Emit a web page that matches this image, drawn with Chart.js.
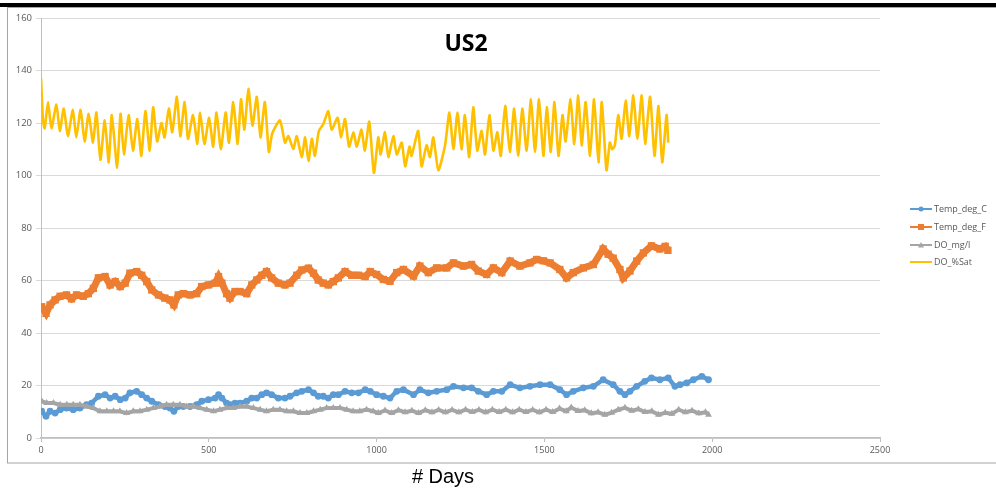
<!DOCTYPE html>
<html>
<head>
<meta charset="utf-8">
<script src="https://cdn.jsdelivr.net/npm/chart.js@4.4.1/dist/chart.umd.min.js"></script>
<style>
html,body{margin:0;padding:0;background:#fff;}
#wrap{position:relative;width:996px;height:489px;}
</style>
</head>
<body>
<div id="wrap"><canvas id="c" width="996" height="489"></canvas></div>
<script>
// ---- Data ----
const chartTitle = "US2";
const xAxisTitle = "# Days";
const seriesNames = ["Temp_deg_C", "Temp_deg_F", "DO_mg/l", "DO_%Sat"];
const xTicks = [0, 500, 1000, 1500, 2000, 2500];
const yTicks = [0, 20, 40, 60, 80, 100, 120, 140, 160];

const tempCDays = [2,15,27,42,57,76,96,116,136,151,171,191,206,221,236,251,265,285,300,315,330,350,369,384,396,409,424,444,464,479,499,519,529,539,553,563,578,593,613,628,643,658,672,687,707,727,742,762,777,797,812,826,841,856,871,886,906,926,946,966,981,1000,1020,1040,1060,1080,1110,1129,1154,1179,1209,1229,1259,1283,1303,1328,1348,1373,1398,1427,1457,1487,1517,1546,1566,1586,1616,1646,1675,1705,1725,1740,1755,1775,1799,1819,1844,1869,1889,1904,1924,1944,1969,1989];
const tempCValues = [10.2,8.3,10.2,9.5,10.8,11.4,10.8,11.4,12.7,13.3,15.9,16.5,15.2,15.9,14.6,15.2,17.2,17.8,16.5,15.2,14,12.7,12,11.4,10.2,12,12,12,12.7,14,14.6,15.2,16.5,15.2,13.3,12.7,13.3,13.3,14,15.2,15.2,16.5,17.2,16.5,15.2,15.2,15.9,17.2,17.8,18.4,17.2,15.9,15.9,15.2,16.5,16.5,17.8,17.2,17.2,18.4,17.8,16.5,15.9,15.2,17.8,18.4,16.5,18.4,17.2,17.8,18.4,19.7,19.1,19.1,17.8,16.5,17.8,17.8,20.3,19.1,19.7,20.3,20.3,18.4,16.5,17.8,19.1,19.7,22.2,20.3,17.8,16.5,17.8,19.7,21.6,22.9,22.2,22.9,19.7,20.3,21,22.2,23.5,22.2];

const tempFDays = [2,15,27,42,57,76,91,106,126,141,156,171,191,206,221,236,251,265,285,300,315,330,350,369,384,396,409,424,444,464,479,499,519,529,539,553,563,578,593,613,628,643,658,672,687,707,727,742,762,777,797,812,826,841,856,871,886,906,926,946,966,981,1000,1020,1040,1060,1080,1110,1129,1154,1179,1209,1229,1259,1283,1303,1328,1348,1373,1398,1427,1457,1477,1497,1517,1546,1566,1586,1616,1646,1675,1690,1705,1725,1735,1755,1775,1795,1819,1844,1860,1868];
const tempFValues = [50,47.5,50.7,52.6,54,54.5,53,54.5,54,55,57,61,61.5,58.3,59.6,57.7,59,62.8,63.4,62,59.6,56.4,54.5,53.3,52.6,50.7,54.5,55,54.5,55,57.7,58.3,59,61.5,59,55,53.3,55.8,55.8,55,58.3,60.2,62,63.4,61,59,58.3,59,62,64,64.7,62.8,60.2,59,58.3,59.6,61,63.4,62,62,61.5,63.4,62.3,60.4,59.7,63,64.2,61.7,65.5,63,64.8,64.8,66.7,65.5,66.1,63.6,62.3,64.8,63,67.4,65.5,66.7,68,67.5,66.7,64.2,61,63,64.8,66.1,72,70,68.5,64.2,61,63.6,67.4,70.5,73.2,72,73,71.5];

const doMgDays = [2,17,37,57,77,96,116,136,156,176,196,216,235,255,275,295,315,335,355,374,394,414,434,454,474,494,514,533,553,573,593,613,633,653,672,692,712,732,752,772,792,812,832,851,871,891,911,930,950,970,990,1005,1025,1045,1065,1085,1105,1125,1145,1165,1185,1205,1225,1245,1265,1285,1305,1325,1345,1365,1385,1405,1425,1445,1465,1485,1505,1525,1545,1565,1580,1600,1620,1640,1660,1680,1700,1720,1740,1760,1780,1800,1820,1840,1860,1880,1900,1920,1940,1960,1980,1989];
const doMgValues = [14,13.3,13.3,12.7,12.7,12.7,12.7,12,11.4,10.2,10.2,10.2,10.2,9.5,10.2,10.2,10.8,11.4,12,12.7,12.7,12.7,12,12,11.4,10.8,10.2,10.8,11.4,11.4,12,12,11.4,10.8,10.2,10.8,10.8,10.2,10.2,9.5,9.5,10.2,10.8,11.4,11.4,11.4,10.8,10.2,10.2,10.8,10.2,9.5,10.5,9.5,10.6,9.8,10.4,9.5,10.6,9.8,10.7,9.8,10.7,9.8,10.8,9.9,10.7,9.8,10.8,9.9,10.8,9.8,10.8,9.9,10.7,9.8,10.8,9.9,11.2,10.2,11.6,10.3,10.6,9.4,9.8,8.9,9.6,10.8,11.5,10.4,11,9.9,10.2,8.9,9.6,9.2,10.8,9.8,10.4,9.4,9.8,8.9];

const doSatDays = [0,6,11,21,31,46,56,68,80,95,105,118,130,142,155,165,177,190,202,211,227,237,247,261,274,287,299,311,324,334,346,359,368,381,391,405,415,428,438,453,466,474,487,501,513,523,536,550,560,573,586,596,606,618,630,643,654,667,679,689,712,727,737,752,762,777,787,797,807,816,828,841,856,866,884,894,906,918,931,941,955,965,978,992,1005,1012,1025,1035,1050,1060,1075,1085,1098,1104,1124,1134,1149,1159,1169,1184,1204,1217,1229,1241,1253,1263,1276,1288,1300,1313,1323,1336,1348,1360,1370,1383,1397,1410,1422,1434,1447,1460,1472,1484,1497,1507,1519,1530,1542,1554,1563,1578,1589,1601,1611,1623,1636,1648,1661,1671,1685,1695,1702,1710,1720,1730,1742,1753,1765,1777,1790,1800,1815,1828,1840,1851,1864,1869];
const doSatValues = [137,121,118,128,118,127,117,125.5,115,125,114.5,125,113,123.5,112.5,124,106,121,105,123,103,123.5,108,123,109.5,121.5,107.5,124.5,109.5,126,113,120,114.5,125.5,116.5,130,115,128,114,123,112,124,112,122,111,124,110,124,112.5,128,112,129,117.5,133,119,130,114.5,128,109,116,121,112.5,115,110,115,107,114.5,105.5,114,107.5,117,119.5,124.5,117.5,122,114.5,121.5,111,116.5,111,117.5,109.5,120.5,101,114.5,108,116.5,107,115,108,112.5,103.5,111,107.5,117,103.5,111.5,107,114.5,102,111.5,124,110,124,110,123,107,126,109.5,117,108,123,109.5,116.5,107.5,126.5,109,125.5,107.5,125.5,109.5,129,109,129,107.5,126,109,128,107.5,123,113,129,112,130.5,111.5,128,107.5,129,105,128,102,112.5,110,111.5,123,114,128.5,115,130.5,114,130.5,112,130,107.5,126.5,105,123,112.5];

const colors = ["#5b9bd5", "#ed7d31", "#a5a5a5", "#ffc000"];

function pts(days, vals){ return days.map((d,i)=>({x:d, y:vals[i]})); }

const FONT = "'Open Sans', 'Liberation Sans', sans-serif";
const TXT = "#595959";

const extras = {
  id: 'extras',
  beforeDraw(chart){
    const ctx = chart.ctx;
    ctx.save();
    ctx.fillStyle = '#fff';
    ctx.fillRect(0,0,chart.width,chart.height);
    ctx.restore();
  },
  afterDraw(chart){
    const ctx = chart.ctx;
    ctx.save();
    // frame
    ctx.strokeStyle = '#a6a6a6';
    ctx.lineWidth = 1;
    ctx.strokeRect(7.5, 7.5, 1000, 455.5);
    // black bar at top
    ctx.fillStyle = '#000';
    ctx.fillRect(0, 3, 996, 4);
    // title
    ctx.fillStyle = '#000';
    ctx.font = "bold 23px 'Open Sans', 'Liberation Sans', sans-serif";
    ctx.textAlign = 'center';
    ctx.textBaseline = 'middle';
    ctx.fillText(chartTitle, 466, 44);
    // x axis title
    ctx.font = "20px 'Liberation Sans', Arial, sans-serif";
    ctx.fillText(xAxisTitle, 443, 477);
    // legend
    const ys = [209, 227, 245, 262];
    ctx.font = "9px " + FONT;
    ctx.textAlign = 'left';
    for (let i=0;i<4;i++){
      const y = ys[i];
      ctx.strokeStyle = colors[i];
      ctx.lineWidth = 2;
      ctx.beginPath(); ctx.moveTo(910, y); ctx.lineTo(932, y); ctx.stroke();
      ctx.fillStyle = colors[i];
      if (i===0){ ctx.beginPath(); ctx.arc(921, y, 2.5, 0, Math.PI*2); ctx.fill(); }
      if (i===1){ ctx.fillRect(918, y-3, 6, 6); }
      if (i===2){ ctx.beginPath(); ctx.moveTo(921, y-3); ctx.lineTo(924, y+2.5); ctx.lineTo(918, y+2.5); ctx.closePath(); ctx.fill(); }
      ctx.fillStyle = TXT;
      ctx.fillText(seriesNames[i], 934, y);
    }
    ctx.restore();
  }
};

new Chart(document.getElementById('c'), {
  type: 'line',
  data: {
    datasets: [
      { label: seriesNames[0], data: pts(tempCDays, tempCValues), borderColor: colors[0], backgroundColor: colors[0],
        borderWidth: 4.5, pointStyle: 'circle', pointRadius: 3.4, pointBorderWidth: 0, tension: 0, order: 4 },
      { label: seriesNames[1], data: pts(tempFDays, tempFValues), borderColor: colors[1], backgroundColor: colors[1],
        borderWidth: 7, pointStyle: 'rect', pointRadius: 5.2, pointBorderWidth: 0, tension: 0, order: 3 },
      { label: seriesNames[2], data: pts(doMgDays, doMgValues), borderColor: colors[2], backgroundColor: colors[2],
        borderWidth: 4, pointStyle: 'triangle', pointRadius: 4, pointBorderWidth: 0, tension: 0, order: 2 },
      { label: seriesNames[3], data: pts(doSatDays, doSatValues), borderColor: colors[3], backgroundColor: colors[3],
        borderWidth: 2.6, pointRadius: 0, tension: 0.2, order: 1 }
    ]
  },
  options: {
    responsive: false,
    animation: false,
    layout: { padding: { top: 18, right: 116, left: 0, bottom: 0 } },
    plugins: { legend: { display: false }, title: { display: false }, tooltip: { enabled: false } },
    scales: {
      x: {
        type: 'linear', min: 0, max: 2500,
        afterBuildTicks(s){ s.ticks = xTicks.map(v=>({value:v})); },
        afterFit(s){ s.height = 51; },
        grid: { drawOnChartArea: false, color: '#bfbfbf', tickLength: 4 },
        border: { color: '#bfbfbf', width: 1.5 },
        ticks: { color: TXT, font: { family: FONT, size: 9 }, padding: 3, maxRotation: 0,
                 callback: (v) => String(v) }
      },
      y: {
        min: 0, max: 160,
        afterBuildTicks(s){ s.ticks = yTicks.map(v=>({value:v})); },
        afterFit(s){ s.width = 41; },
        grid: { color: '#d9d9d9', tickLength: 5 },
        border: { color: '#bfbfbf', width: 1 },
        ticks: { color: TXT, font: { family: FONT, size: 9.5 }, padding: 4,
                 callback: (v) => String(v) }
      }
    }
  },
  plugins: [extras]
});
</script>
</body>
</html>
